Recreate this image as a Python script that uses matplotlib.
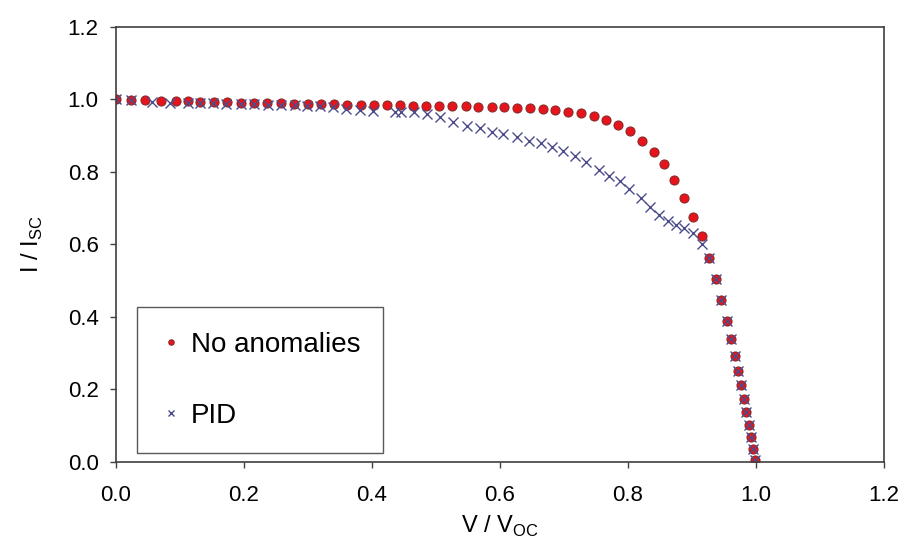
import matplotlib
matplotlib.use('Agg')
import matplotlib.pyplot as plt

# 读图得到的数据：无异常组件与 PID 组件的归一化 I-V 曲线。
noano_v = [0.000, 0.023, 0.045, 0.070, 0.094, 0.113, 0.131, 0.153, 0.173, 0.195,
           0.216, 0.236, 0.258, 0.278, 0.300, 0.320, 0.341, 0.361, 0.383, 0.403,
           0.423, 0.444, 0.464, 0.484, 0.505, 0.525, 0.547, 0.566, 0.587, 0.606,
           0.626, 0.647, 0.667, 0.686, 0.706, 0.726, 0.747, 0.766, 0.784, 0.803,
           0.822, 0.840, 0.856, 0.872, 0.888, 0.902, 0.915, 0.927, 0.937, 0.946,
           0.954, 0.961, 0.967, 0.972, 0.977, 0.981, 0.985, 0.989, 0.992, 0.995,
           0.999]
noano_i = [1.000, 0.999, 0.998, 0.997, 0.996, 0.995, 0.994, 0.993, 0.992, 0.991,
           0.990, 0.990, 0.989, 0.988, 0.988, 0.987, 0.987, 0.986, 0.985, 0.985,
           0.984, 0.984, 0.983, 0.982, 0.982, 0.981, 0.981, 0.980, 0.980, 0.979,
           0.977, 0.976, 0.973, 0.971, 0.966, 0.962, 0.954, 0.943, 0.930, 0.912,
           0.886, 0.856, 0.821, 0.778, 0.729, 0.677, 0.622, 0.564, 0.505, 0.447,
           0.390, 0.338, 0.292, 0.252, 0.213, 0.175, 0.138, 0.102, 0.068, 0.036,
           0.005]

pid_v = [0.000, 0.023, 0.057, 0.084, 0.112, 0.131, 0.151, 0.172, 0.196, 0.216,
         0.237, 0.258, 0.279, 0.298, 0.319, 0.339, 0.360, 0.381, 0.402, 0.436,
         0.446, 0.465, 0.486, 0.506, 0.527, 0.548, 0.569, 0.587, 0.605, 0.626,
         0.646, 0.664, 0.681, 0.699, 0.717, 0.735, 0.754, 0.771, 0.788, 0.802,
         0.820, 0.834, 0.849, 0.863, 0.875, 0.888, 0.902, 0.915, 0.927, 0.937,
         0.946, 0.954, 0.961, 0.967, 0.972, 0.977, 0.981, 0.985, 0.989, 0.992,
         0.995, 0.999]
pid_i = [1.000, 0.999, 0.994, 0.991, 0.991, 0.990, 0.989, 0.988, 0.987, 0.987,
         0.986, 0.986, 0.985, 0.982, 0.981, 0.978, 0.975, 0.971, 0.967, 0.965,
         0.966, 0.966, 0.959, 0.951, 0.939, 0.928, 0.920, 0.911, 0.905, 0.896,
         0.886, 0.879, 0.868, 0.858, 0.844, 0.828, 0.806, 0.789, 0.775, 0.753,
         0.728, 0.703, 0.681, 0.665, 0.654, 0.645, 0.631, 0.601, 0.564, 0.505,
         0.447, 0.390, 0.338, 0.292, 0.252, 0.213, 0.175, 0.138, 0.102, 0.068,
         0.036, 0.005]

TICKS = [0.0, 0.2, 0.4, 0.6, 0.8, 1.0, 1.2]

plt.rcParams['font.family'] = ['Liberation Sans', 'DejaVu Sans']
plt.rcParams['mathtext.fontset'] = 'custom'
plt.rcParams['mathtext.rm'] = 'Liberation Sans'

fig = plt.figure(figsize=(9.06, 5.5), dpi=100)
ax = fig.add_axes([0.128, 0.16, 0.8477, 0.791])

ax.plot(noano_v, noano_i, linestyle='none', marker='o', markersize=6.5,
        markerfacecolor='#e8141c', markeredgecolor='#8a2a2a', markeredgewidth=0.8,
        label='No anomalies')
ax.plot(pid_v, pid_i, linestyle='none', marker='x', markersize=6.5,
        markeredgecolor='#4c4c8c', markeredgewidth=1.0, label='PID')

ax.set_xlim(0, 1.2)
ax.set_ylim(0, 1.2)
ax.set_xticks(TICKS, [f'{t:.1f}' for t in TICKS])
ax.set_yticks(TICKS, [f'{t:.1f}' for t in TICKS])
ax.tick_params(direction='out', length=4.5, width=1, color='#404040',
               labelsize=16)
ax.tick_params(axis='x', pad=12)
ax.tick_params(axis='y', pad=8)
for sp in ax.spines.values():
    sp.set_color('#404040')
    sp.set_linewidth(1.2)

ax.set_xlabel('V / V$_{\\rm OC}$', fontsize=17, labelpad=6)
ax.set_ylabel('I / I$_{\\rm SC}$', fontsize=17, labelpad=16)

leg = ax.legend(loc='lower left', bbox_to_anchor=(0.0273, 0.0207, 0.3204, 0.3313),
                mode='expand', fontsize=20, markerscale=0.6, frameon=True,
                fancybox=False, borderpad=0.88, labelspacing=1.62,
                handlelength=0.7, handletextpad=0.35, borderaxespad=0)
leg.get_frame().set_edgecolor('#303030')
leg.get_frame().set_linewidth(1.0)

fig.savefig('out.png', dpi=100)
